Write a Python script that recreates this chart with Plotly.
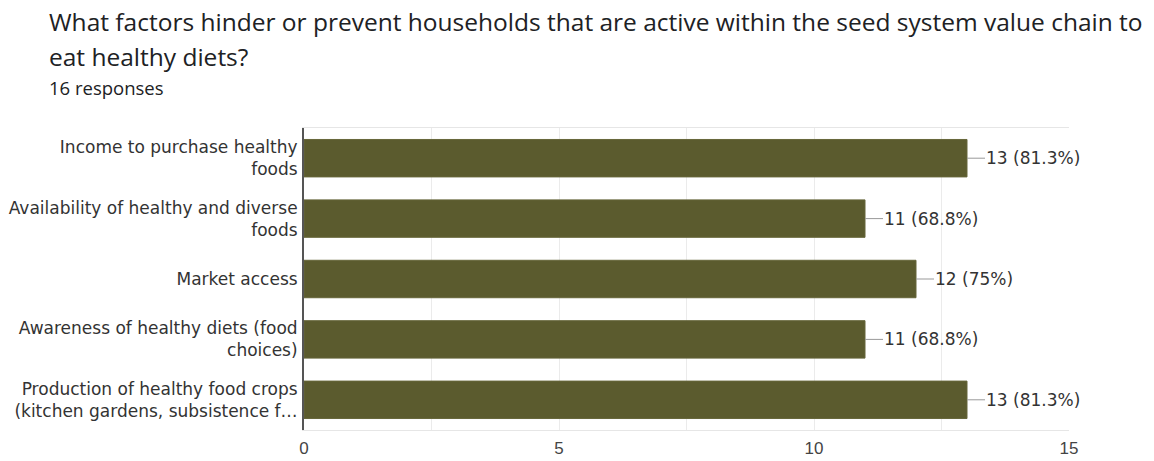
import plotly.graph_objects as go

# Survey question and response data
title_lines = [
    "What factors hinder or prevent households that are active within the seed system value chain to",
    "eat healthy diets?",
]
subtitle_text = "16 responses"

categories = [
    "Income to purchase healthy<br>foods",
    "Availability of healthy and diverse<br>foods",
    "Market access",
    "Awareness of healthy diets (food<br>choices)",
    "Production of healthy food crops<br>(kitchen gardens, subsistence f…",
]
counts = [13, 11, 12, 11, 13]
percents = ["81.3%", "68.8%", "75%", "68.8%", "81.3%"]

bar_color = "#5b5b2e"
text_color = "#333333"
label_font = "DejaVu Sans, Verdana, sans-serif"
title_font = "Open Sans, Roboto, sans-serif"

# Plot-area geometry in pixels
W, H = 1154, 461
L, R, T, B = 304, 85, 128, 31
PW, PH = W - L - R, H - T - B


def px_to_paper(px, py):
    return (px - L) / PW, 1 + (T - py) / PH


fig = go.Figure(
    go.Bar(
        x=counts,
        y=categories,
        orientation="h",
        marker=dict(color=bar_color, line=dict(color="#66663a", width=1)),
        width=0.62,
        hoverinfo="skip",
    )
)

# Value labels with a short leader line off the end of each bar
for cat, n, pct in zip(categories, counts, percents):
    fig.add_shape(
        type="line",
        xref="x", yref="y",
        xsizemode="pixel", xanchor=n,
        x0=0, x1=18,
        y0=cat, y1=cat,
        line=dict(color="#999999", width=1),
    )
    fig.add_annotation(
        x=n, y=cat, xref="x", yref="y",
        text=f"{n} ({pct})",
        showarrow=False,
        xanchor="left", yanchor="middle",
        xshift=17,
        font=dict(family=label_font, size=17, color=text_color),
    )

# Title block
for line, cy in zip(title_lines, [21, 56]):
    ax, ay = px_to_paper(47, cy)
    fig.add_annotation(
        x=ax, y=ay, xref="paper", yref="paper",
        text=line, showarrow=False,
        xanchor="left", yanchor="middle", align="left",
        font=dict(family=title_font, size=24.5, color="#202124"),
    )
ax, ay = px_to_paper(47, 87)
fig.add_annotation(
    x=ax, y=ay, xref="paper", yref="paper",
    text=subtitle_text, showarrow=False,
    xanchor="left", yanchor="middle", align="left",
    font=dict(family=title_font, size=18.5, color="#202124"),
)

fig.update_layout(
    width=W, height=H,
    margin=dict(l=L, r=R, t=T, b=B, autoexpand=False),
    paper_bgcolor="white",
    plot_bgcolor="white",
    showlegend=False,
    xaxis=dict(
        range=[0, 15],
        tickvals=[0, 5, 10, 15],
        showgrid=True,
        gridcolor="#ebebeb",
        gridwidth=1,
        minor=dict(dtick=2.5, showgrid=True, gridcolor="#ebebeb", gridwidth=1),
        showline=True, mirror=True,
        linecolor="#e6e6e6", linewidth=1,
        zeroline=False,
        ticks="",
        automargin=False,
        ticklabelstandoff=3,
        tickfont=dict(family="Liberation Sans, Arial, sans-serif", size=17, color="#444444"),
        fixedrange=True,
    ),
    yaxis=dict(
        autorange="reversed",
        showline=True,
        linecolor="#555555", linewidth=2,
        showgrid=False,
        ticks="",
        automargin=False,
        ticklabelstandoff=1,
        tickfont=dict(family=label_font, size=17, color=text_color),
        fixedrange=True,
    ),
)

fig.write_html("out.html")
